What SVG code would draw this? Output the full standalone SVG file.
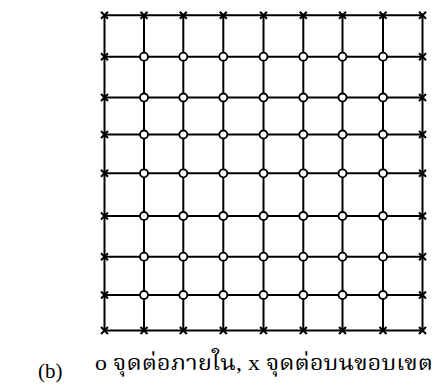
<svg xmlns="http://www.w3.org/2000/svg" xmlns:xlink="http://www.w3.org/1999/xlink" width="438" height="387" viewBox="0 0 438 387">
<style>
.ln{stroke:#000;stroke-width:2;fill:none}
.cr{stroke:#000;stroke-width:2;fill:none}
.ci{stroke:#000;stroke-width:1.8;fill:#fff}
.lbl{font-family:"Liberation Serif","Noto Serif Thai","Noto Sans Thai","TH Sarabun New",Loma,Garuda,serif;fill:#000}
</style>
<defs>
<path id="x" class="cr" d="M-3.5,-3.5 L3.5,3.5 M-3.5,3.5 L3.5,-3.5"/>
<circle id="o" class="ci" r="4"/>
</defs>
<rect width="438" height="387" fill="#fff"/>
<g id="connectors">
<path class="ln" d="M104.5,15.3H422.5M104.5,56.7H422.5M104.5,97.5H422.5M104.5,134.5H422.5M104.5,173.3H422.5M104.5,216H422.5M104.5,256.7H422.5M104.5,295H422.5M104.5,330.5H422.5"/>
<path class="ln" d="M104.5,15.3V330.5M144,15.3V330.5M183.3,15.3V330.5M223.3,15.3V330.5M263.5,15.3V330.5M303.3,15.3V330.5M342.5,15.3V330.5M383,15.3V330.5M422.5,15.3V330.5"/>
</g>
<g id="nodes">
<g id="n0-0"><use href="#x" x="104.5" y="15.3"/></g>
<g id="n0-1"><use href="#x" x="144" y="15.3"/></g>
<g id="n0-2"><use href="#x" x="183.3" y="15.3"/></g>
<g id="n0-3"><use href="#x" x="223.3" y="15.3"/></g>
<g id="n0-4"><use href="#x" x="263.5" y="15.3"/></g>
<g id="n0-5"><use href="#x" x="303.3" y="15.3"/></g>
<g id="n0-6"><use href="#x" x="342.5" y="15.3"/></g>
<g id="n0-7"><use href="#x" x="383" y="15.3"/></g>
<g id="n0-8"><use href="#x" x="422.5" y="15.3"/></g>
<g id="n1-0"><use href="#x" x="104.5" y="56.7"/></g>
<g id="n1-1"><use href="#o" x="144" y="56.7"/></g>
<g id="n1-2"><use href="#o" x="183.3" y="56.7"/></g>
<g id="n1-3"><use href="#o" x="223.3" y="56.7"/></g>
<g id="n1-4"><use href="#o" x="263.5" y="56.7"/></g>
<g id="n1-5"><use href="#o" x="303.3" y="56.7"/></g>
<g id="n1-6"><use href="#o" x="342.5" y="56.7"/></g>
<g id="n1-7"><use href="#o" x="383" y="56.7"/></g>
<g id="n1-8"><use href="#x" x="422.5" y="56.7"/></g>
<g id="n2-0"><use href="#x" x="104.5" y="97.5"/></g>
<g id="n2-1"><use href="#o" x="144" y="97.5"/></g>
<g id="n2-2"><use href="#o" x="183.3" y="97.5"/></g>
<g id="n2-3"><use href="#o" x="223.3" y="97.5"/></g>
<g id="n2-4"><use href="#o" x="263.5" y="97.5"/></g>
<g id="n2-5"><use href="#o" x="303.3" y="97.5"/></g>
<g id="n2-6"><use href="#o" x="342.5" y="97.5"/></g>
<g id="n2-7"><use href="#o" x="383" y="97.5"/></g>
<g id="n2-8"><use href="#x" x="422.5" y="97.5"/></g>
<g id="n3-0"><use href="#x" x="104.5" y="134.5"/></g>
<g id="n3-1"><use href="#o" x="144" y="134.5"/></g>
<g id="n3-2"><use href="#o" x="183.3" y="134.5"/></g>
<g id="n3-3"><use href="#o" x="223.3" y="134.5"/></g>
<g id="n3-4"><use href="#o" x="263.5" y="134.5"/></g>
<g id="n3-5"><use href="#o" x="303.3" y="134.5"/></g>
<g id="n3-6"><use href="#o" x="342.5" y="134.5"/></g>
<g id="n3-7"><use href="#o" x="383" y="134.5"/></g>
<g id="n3-8"><use href="#x" x="422.5" y="134.5"/></g>
<g id="n4-0"><use href="#x" x="104.5" y="173.3"/></g>
<g id="n4-1"><use href="#o" x="144" y="173.3"/></g>
<g id="n4-2"><use href="#o" x="183.3" y="173.3"/></g>
<g id="n4-3"><use href="#o" x="223.3" y="173.3"/></g>
<g id="n4-4"><use href="#o" x="263.5" y="173.3"/></g>
<g id="n4-5"><use href="#o" x="303.3" y="173.3"/></g>
<g id="n4-6"><use href="#o" x="342.5" y="173.3"/></g>
<g id="n4-7"><use href="#o" x="383" y="173.3"/></g>
<g id="n4-8"><use href="#x" x="422.5" y="173.3"/></g>
<g id="n5-0"><use href="#x" x="104.5" y="216"/></g>
<g id="n5-1"><use href="#o" x="144" y="216"/></g>
<g id="n5-2"><use href="#o" x="183.3" y="216"/></g>
<g id="n5-3"><use href="#o" x="223.3" y="216"/></g>
<g id="n5-4"><use href="#o" x="263.5" y="216"/></g>
<g id="n5-5"><use href="#o" x="303.3" y="216"/></g>
<g id="n5-6"><use href="#o" x="342.5" y="216"/></g>
<g id="n5-7"><use href="#o" x="383" y="216"/></g>
<g id="n5-8"><use href="#x" x="422.5" y="216"/></g>
<g id="n6-0"><use href="#x" x="104.5" y="256.7"/></g>
<g id="n6-1"><use href="#o" x="144" y="256.7"/></g>
<g id="n6-2"><use href="#o" x="183.3" y="256.7"/></g>
<g id="n6-3"><use href="#o" x="223.3" y="256.7"/></g>
<g id="n6-4"><use href="#o" x="263.5" y="256.7"/></g>
<g id="n6-5"><use href="#o" x="303.3" y="256.7"/></g>
<g id="n6-6"><use href="#o" x="342.5" y="256.7"/></g>
<g id="n6-7"><use href="#o" x="383" y="256.7"/></g>
<g id="n6-8"><use href="#x" x="422.5" y="256.7"/></g>
<g id="n7-0"><use href="#x" x="104.5" y="295"/></g>
<g id="n7-1"><use href="#o" x="144" y="295"/></g>
<g id="n7-2"><use href="#o" x="183.3" y="295"/></g>
<g id="n7-3"><use href="#o" x="223.3" y="295"/></g>
<g id="n7-4"><use href="#o" x="263.5" y="295"/></g>
<g id="n7-5"><use href="#o" x="303.3" y="295"/></g>
<g id="n7-6"><use href="#o" x="342.5" y="295"/></g>
<g id="n7-7"><use href="#o" x="383" y="295"/></g>
<g id="n7-8"><use href="#x" x="422.5" y="295"/></g>
<g id="n8-0"><use href="#x" x="104.5" y="330.5"/></g>
<g id="n8-1"><use href="#x" x="144" y="330.5"/></g>
<g id="n8-2"><use href="#x" x="183.3" y="330.5"/></g>
<g id="n8-3"><use href="#x" x="223.3" y="330.5"/></g>
<g id="n8-4"><use href="#x" x="263.5" y="330.5"/></g>
<g id="n8-5"><use href="#x" x="303.3" y="330.5"/></g>
<g id="n8-6"><use href="#x" x="342.5" y="330.5"/></g>
<g id="n8-7"><use href="#x" x="383" y="330.5"/></g>
<g id="n8-8"><use href="#x" x="422.5" y="330.5"/></g>
</g>
<g id="labels">
<text class="lbl" x="38" y="378" font-size="21">(b)</text>
<text class="lbl" x="95" y="370" font-size="21" textLength="338" lengthAdjust="spacingAndGlyphs">o จุดต่อภายใน, x จุดต่อบนขอบเขต</text>
</g>
</svg>
